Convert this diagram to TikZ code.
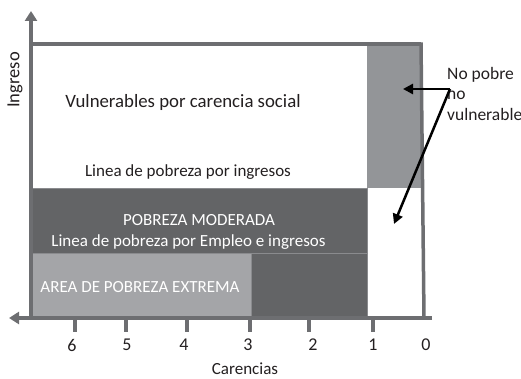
\documentclass[tikz,border=0pt]{standalone}
\usepackage{fontspec}
\setmainfont{Carlito}
\usetikzlibrary{arrows.meta}
\definecolor{axisgray}{HTML}{6D6E71}
\definecolor{colgray}{HTML}{939598}
\definecolor{bandgray}{HTML}{636466}
\definecolor{lightgray2}{HTML}{A4A5A8}
\definecolor{edgegray}{HTML}{8A8B8E}
\definecolor{textblack}{HTML}{231F20}
\begin{document}
\begin{tikzpicture}[x=1pt,y=-1pt,
  axis/.style={draw=axisgray,line width=3.5pt,-{Triangle[length=10pt,width=12pt]}},
  tick/.style={draw=axisgray,line width=3.5pt},
  frame/.style={draw=axisgray,line width=3.5pt},
  region/.style={draw=edgegray,line width=0.8pt},
  lbl/.style={font=\fontsize{17}{20}\selectfont,text=textblack,inner sep=0pt},
  wlbl/.style={font=\fontsize{17}{20}\selectfont,text=white,inner sep=0pt},
  pointer/.style={draw=black,line width=2.5pt,-{Triangle[length=10pt,width=10pt]}}]
\useasboundingbox (0,0) rectangle (521,379);
% regions
\fill[colgray] (367,45) rectangle (421,188);
\path[region,fill=bandgray] (31,188) rectangle (367,253);
\path[region,fill=lightgray2] (31,253) rectangle (251,318);
\path[region,fill=bandgray] (251,253) rectangle (367,318);
% frame
\draw[frame] (31,44) -- (421,44);
\draw[frame] (421,42.5) -- (424,318);
% axes
\coordinate (origin) at (31,318);
\coordinate (ytip) at (31,11);
\coordinate (xright) at (432,318);
\coordinate (xtip) at (9,318);
\draw[axis] (origin) -- (ytip);
\draw[axis] (xright) -- (xtip);
% ticks and labels
\foreach \x/\lx/\n in {75/72/6,126/127/5,187/184/4,250/248/3,309/313/2,373/373/1}{
  \draw[tick] (\x,318) -- (\x,332);
  \node[lbl,font=\fontsize{18}{20}\selectfont] (t\n) at (\lx,345) {\n};
}
\node[lbl,font=\fontsize{18}{20}\selectfont] (t0) at (426,345) {0};
\node[lbl] (carencias) at (245,369) {Carencias};
\node[lbl,rotate=90,font=\fontsize{18.5}{20}\selectfont] (ingreso) at (15,80) {Ingreso};
% texts
\node[lbl,font=\fontsize{18.8}{22}\selectfont] (vuln) at (183,102) {Vulnerables por carencia social};
\node[lbl] (lineaing) at (188,172) {Linea de pobreza por ingresos};
\node[wlbl] (moderada) at (199,220) {POBREZA MODERADA};
\node[wlbl] (lineaemp) at (188.5,242) {Linea de pobreza por Empleo e ingresos};
\node[wlbl] (extrema) at (140,287) {AREA DE POBREZA EXTREMA};
\node[lbl,align=left,anchor=north west,font=\fontsize{17.5}{20.5}\selectfont] (nopobre) at (447,67) {No pobre\\no\\vulnerable};
% pointers
\coordinate (src) at (450,89);
\coordinate (grey) at (403,89);
\coordinate (white) at (394,224);
\draw[pointer] (src) -- (grey);
\draw[pointer] (src) -- (white);
\end{tikzpicture}
\end{document}
